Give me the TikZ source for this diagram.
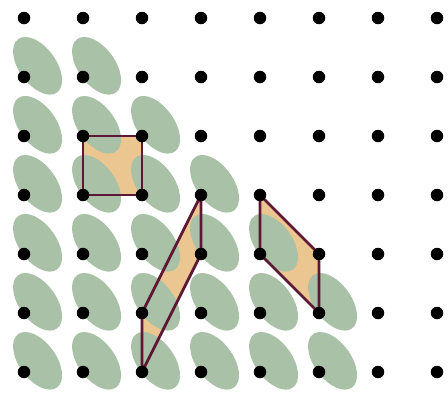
\documentclass[tikz,border=0pt]{standalone}
\usepackage{tikz}
\usetikzlibrary{positioning, calc}
\definecolor{leafgreen}{RGB}{169,193,166}
\definecolor{sand}{RGB}{236,198,145}
\definecolor{plum}{RGB}{92,24,52}
\begin{document}
\begin{tikzpicture}[
    x=1.18cm, y=1.18cm,
    dot/.style={circle, fill=black, inner sep=0pt, minimum size=0.25cm},
    blob/.style={fill=leafgreen},
    cell/.style={fill=sand},
    cellrim/.style={draw=plum, line width=1.6pt, line join=round}
]
\useasboundingbox[fill=white] (-0.4068,0.3051) rectangle (7.1864,-6.339);
\clip (-0.4068,0.3051) rectangle (7.1864,-6.339);
\foreach \c in {0,...,7}
  \foreach \r in {0,...,6}
    \coordinate (p-\c-\r) at (\c,-\r);

\fill[cell] (p-1-2) -- (p-2-2) -- (p-2-3) -- (p-1-3) -- cycle;
\fill[cell] (p-3-3) -- (p-3-4) -- (p-2-6) -- (p-2-5) -- cycle;
\fill[cell] (p-4-3) -- (p-5-4) -- (p-5-5) -- (p-4-4) -- cycle;

\foreach \r in {1,...,6} {
  \pgfmathtruncatemacro\cmax{min(\r,5)}
  \foreach \c in {0,...,\cmax}
    \fill[blob, shift={($(p-\c-\r)+(0.23,0.19)$)}, rotate=-54] (0,0) ellipse [x radius=0.66cm, y radius=0.37cm];
}

\draw[cellrim] (p-1-2) -- (p-2-2) -- (p-2-3) -- (p-1-3) -- cycle;
\draw[cellrim] (p-3-3) -- (p-3-4) -- (p-2-6) -- (p-2-5) -- cycle;
\draw[cellrim] (p-4-3) -- (p-5-4) -- (p-5-5) -- (p-4-4) -- cycle;

\foreach \c in {0,...,7}
  \foreach \r in {0,...,6}
    \node[dot] (d-\c-\r) at (p-\c-\r) {};
\end{tikzpicture}
\end{document}
